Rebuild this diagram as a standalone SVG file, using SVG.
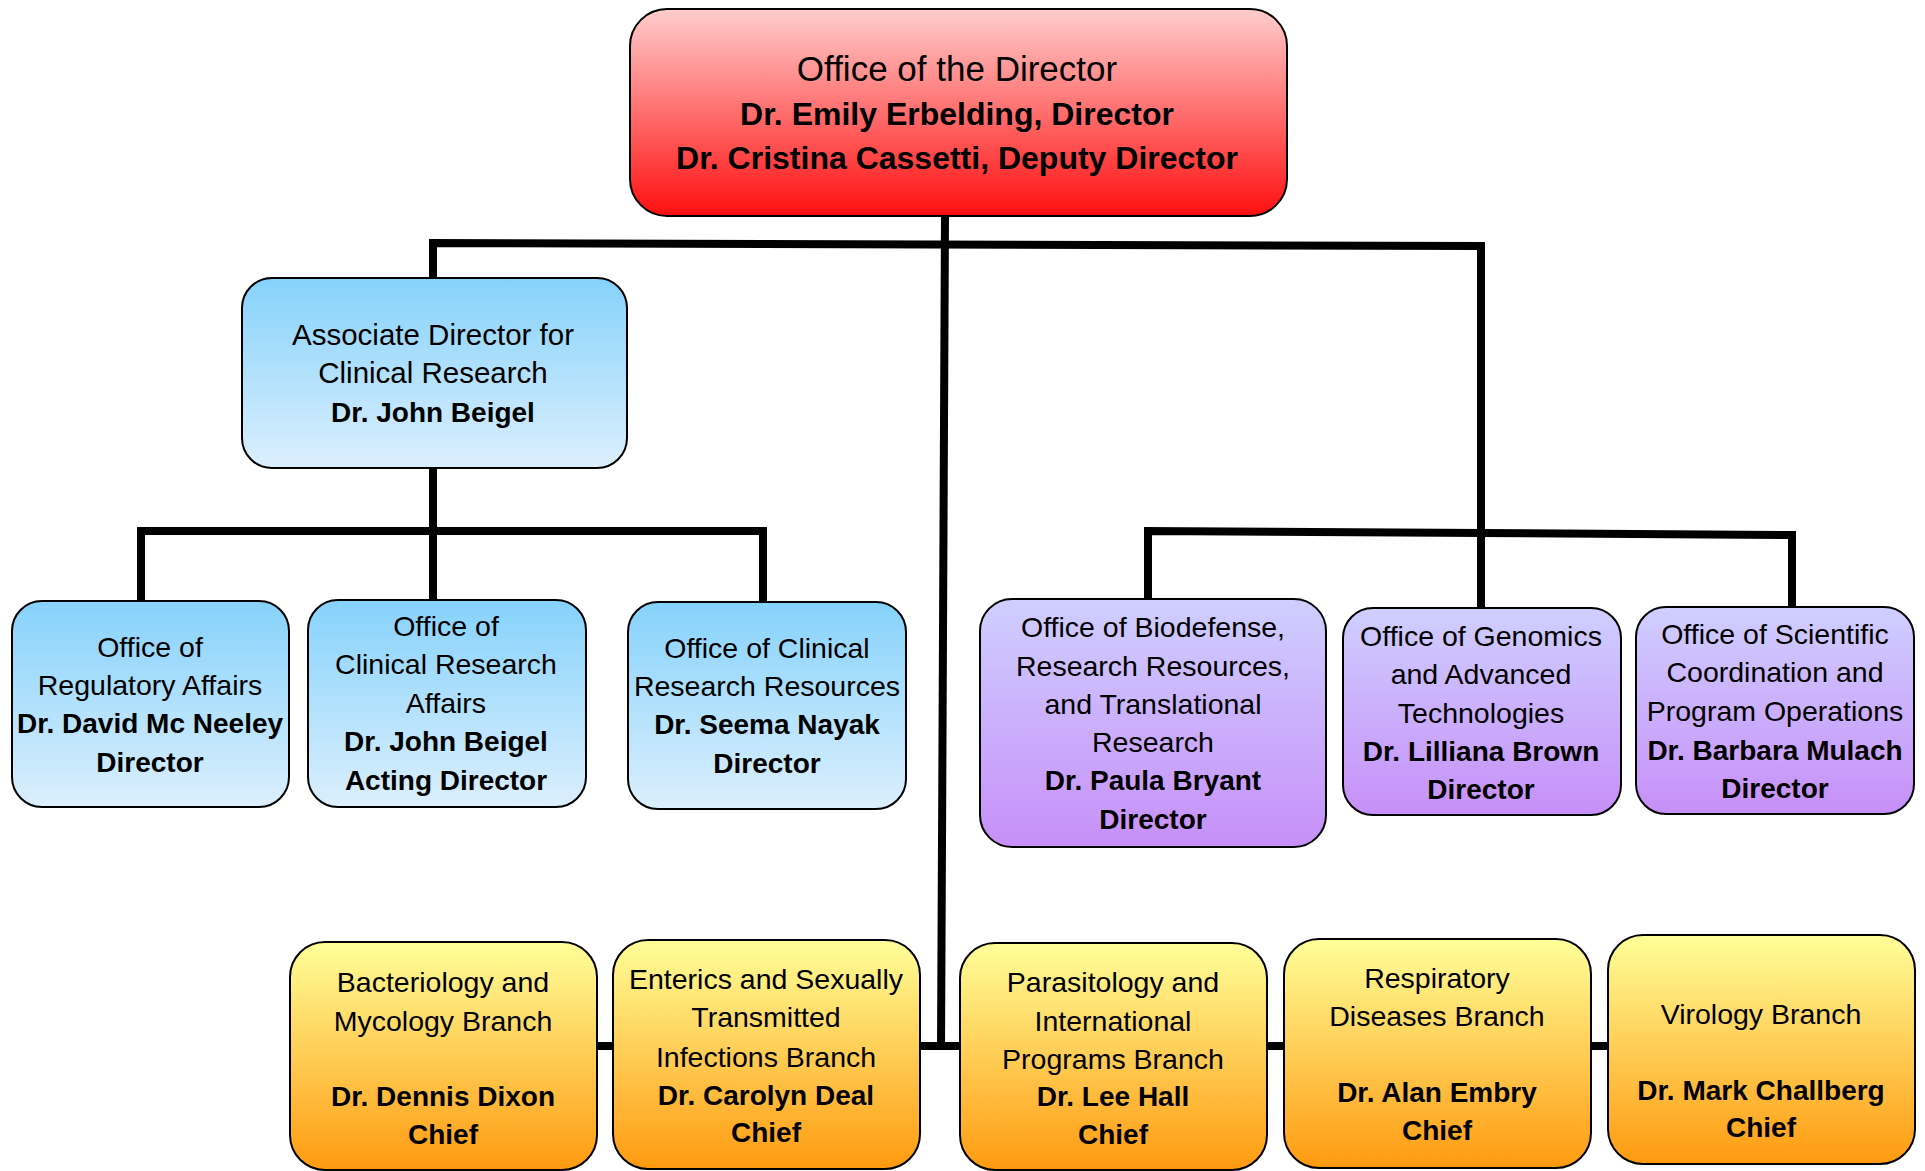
<svg xmlns="http://www.w3.org/2000/svg" width="1925" height="1171" viewBox="0 0 1925 1171">
<defs>
<linearGradient id="gRed" x1="0" y1="0" x2="0" y2="1"><stop offset="0" stop-color="#FFCDCD"/><stop offset="1" stop-color="#FF0F0F"/></linearGradient>
<linearGradient id="gBlue" x1="0" y1="0" x2="0" y2="1"><stop offset="0" stop-color="#86D2FB"/><stop offset="1" stop-color="#DCEFFD"/></linearGradient>
<linearGradient id="gPurple" x1="0" y1="0" x2="0" y2="1"><stop offset="0" stop-color="#CFCFFF"/><stop offset="1" stop-color="#C78FF8"/></linearGradient>
<linearGradient id="gYellow" x1="0" y1="0" x2="0" y2="1"><stop offset="0" stop-color="#FFFF99"/><stop offset="1" stop-color="#FF9A10"/></linearGradient>
</defs>
<style>
.box{stroke:#000;stroke-width:2}
.red{fill:url(#gRed)}
.blue{fill:url(#gBlue)}
.purple{fill:url(#gPurple)}
.yellow{fill:url(#gYellow)}
text{font-family:"Liberation Sans",Arial,sans-serif;fill:#000;text-anchor:middle}
.r{font-size:28.5px}
.ra{font-size:29.5px}
.b{font-size:28px;font-weight:bold}
.tr{font-size:35px}
.tb{font-size:32px;font-weight:bold}
.conn{fill:none;stroke:#000;stroke-width:8;stroke-linejoin:miter;stroke-linecap:butt}
</style>
<rect width="1925" height="1171" fill="#fff"/>
<g id="connectors">
<polyline class="conn" points="433,278 433,243 1481,246 1481,608"/>
<line class="conn" x1="945" y1="216" x2="941" y2="1050"/>
<line class="conn" x1="433" y1="468" x2="433" y2="600"/>
<polyline class="conn" points="141,601 141,531 763,531 763,602"/>
<polyline class="conn" points="1148,599 1148,531 1792,535 1792,607"/>
<line class="conn" x1="450" y1="1046" x2="1760" y2="1046"/>
</g>
<g id="director">
<rect class="box red" x="630" y="9" width="657" height="207" rx="37"/>
<text x="957" y="81" class="tr">Office of the Director</text>
<text x="957" y="125" class="tb">Dr. Emily Erbelding, Director</text>
<text x="957" y="169" class="tb">Dr. Cristina Cassetti, Deputy Director</text>
</g>
<g id="assoc-director">
<rect class="box blue" x="242" y="278" width="385" height="190" rx="30"/>
<text x="433" y="345" class="ra">Associate Director for</text>
<text x="433" y="383" class="ra">Clinical Research</text>
<text x="433" y="422" class="b">Dr. John Beigel</text>
</g>
<g id="regulatory">
<rect class="box blue" x="12" y="601" width="277" height="206" rx="30"/>
<text x="150" y="657" class="r">Office of</text>
<text x="150" y="695" class="r">Regulatory Affairs</text>
<text x="150" y="733" class="b">Dr. David Mc Neeley</text>
<text x="150" y="772" class="b">Director</text>
</g>
<g id="clinical-affairs">
<rect class="box blue" x="308" y="600" width="278" height="207" rx="30"/>
<text x="446" y="636" class="r">Office of</text>
<text x="446" y="674" class="r">Clinical Research</text>
<text x="446" y="713" class="r">Affairs</text>
<text x="446" y="751" class="b">Dr. John Beigel</text>
<text x="446" y="790" class="b">Acting Director</text>
</g>
<g id="clinical-resources">
<rect class="box blue" x="628" y="602" width="278" height="207" rx="30"/>
<text x="767" y="658" class="r">Office of Clinical</text>
<text x="767" y="696" class="r">Research Resources</text>
<text x="767" y="734" class="b">Dr. Seema Nayak</text>
<text x="767" y="773" class="b">Director</text>
</g>
<g id="biodefense">
<rect class="box purple" x="980" y="599" width="346" height="248" rx="32"/>
<text x="1153" y="637" class="r">Office of Biodefense,</text>
<text x="1153" y="676" class="r">Research Resources,</text>
<text x="1153" y="714" class="r">and Translational</text>
<text x="1153" y="752" class="r">Research</text>
<text x="1153" y="790" class="b">Dr. Paula Bryant</text>
<text x="1153" y="829" class="b">Director</text>
</g>
<g id="genomics">
<rect class="box purple" x="1343" y="608" width="278" height="207" rx="30"/>
<text x="1481" y="646" class="r">Office of Genomics</text>
<text x="1481" y="684" class="r">and Advanced</text>
<text x="1481" y="723" class="r">Technologies</text>
<text x="1481" y="761" class="b">Dr. Lilliana Brown</text>
<text x="1481" y="799" class="b">Director</text>
</g>
<g id="scientific">
<rect class="box purple" x="1636" y="607" width="278" height="207" rx="30"/>
<text x="1775" y="644" class="r">Office of Scientific</text>
<text x="1775" y="682" class="r">Coordination and</text>
<text x="1775" y="721" class="r">Program Operations</text>
<text x="1775" y="760" class="b">Dr. Barbara Mulach</text>
<text x="1775" y="798" class="b">Director</text>
</g>
<g id="bacteriology">
<rect class="box yellow" x="290" y="942" width="307" height="228" rx="35"/>
<text x="443" y="992" class="r">Bacteriology and</text>
<text x="443" y="1031" class="r">Mycology Branch</text>
<text x="443" y="1106" class="b">Dr. Dennis Dixon</text>
<text x="443" y="1144" class="b">Chief</text>
</g>
<g id="enterics">
<rect class="box yellow" x="613" y="940" width="307" height="229" rx="35"/>
<text x="766" y="989" class="r">Enterics and Sexually</text>
<text x="766" y="1027" class="r">Transmitted</text>
<text x="766" y="1067" class="r">Infections Branch</text>
<text x="766" y="1105" class="b">Dr. Carolyn Deal</text>
<text x="766" y="1142" class="b">Chief</text>
</g>
<g id="parasitology">
<rect class="box yellow" x="960" y="943" width="307" height="227" rx="35"/>
<text x="1113" y="992" class="r">Parasitology and</text>
<text x="1113" y="1031" class="r">International</text>
<text x="1113" y="1069" class="r">Programs Branch</text>
<text x="1113" y="1106" class="b">Dr. Lee Hall</text>
<text x="1113" y="1144" class="b">Chief</text>
</g>
<g id="respiratory">
<rect class="box yellow" x="1284" y="939" width="307" height="229" rx="35"/>
<text x="1437" y="988" class="r">Respiratory</text>
<text x="1437" y="1026" class="r">Diseases Branch</text>
<text x="1437" y="1102" class="b">Dr. Alan Embry</text>
<text x="1437" y="1140" class="b">Chief</text>
</g>
<g id="virology">
<rect class="box yellow" x="1608" y="935" width="307" height="229" rx="35"/>
<text x="1761" y="1024" class="r">Virology Branch</text>
<text x="1761" y="1100" class="b">Dr. Mark Challberg</text>
<text x="1761" y="1137" class="b">Chief</text>
</g>
</svg>
